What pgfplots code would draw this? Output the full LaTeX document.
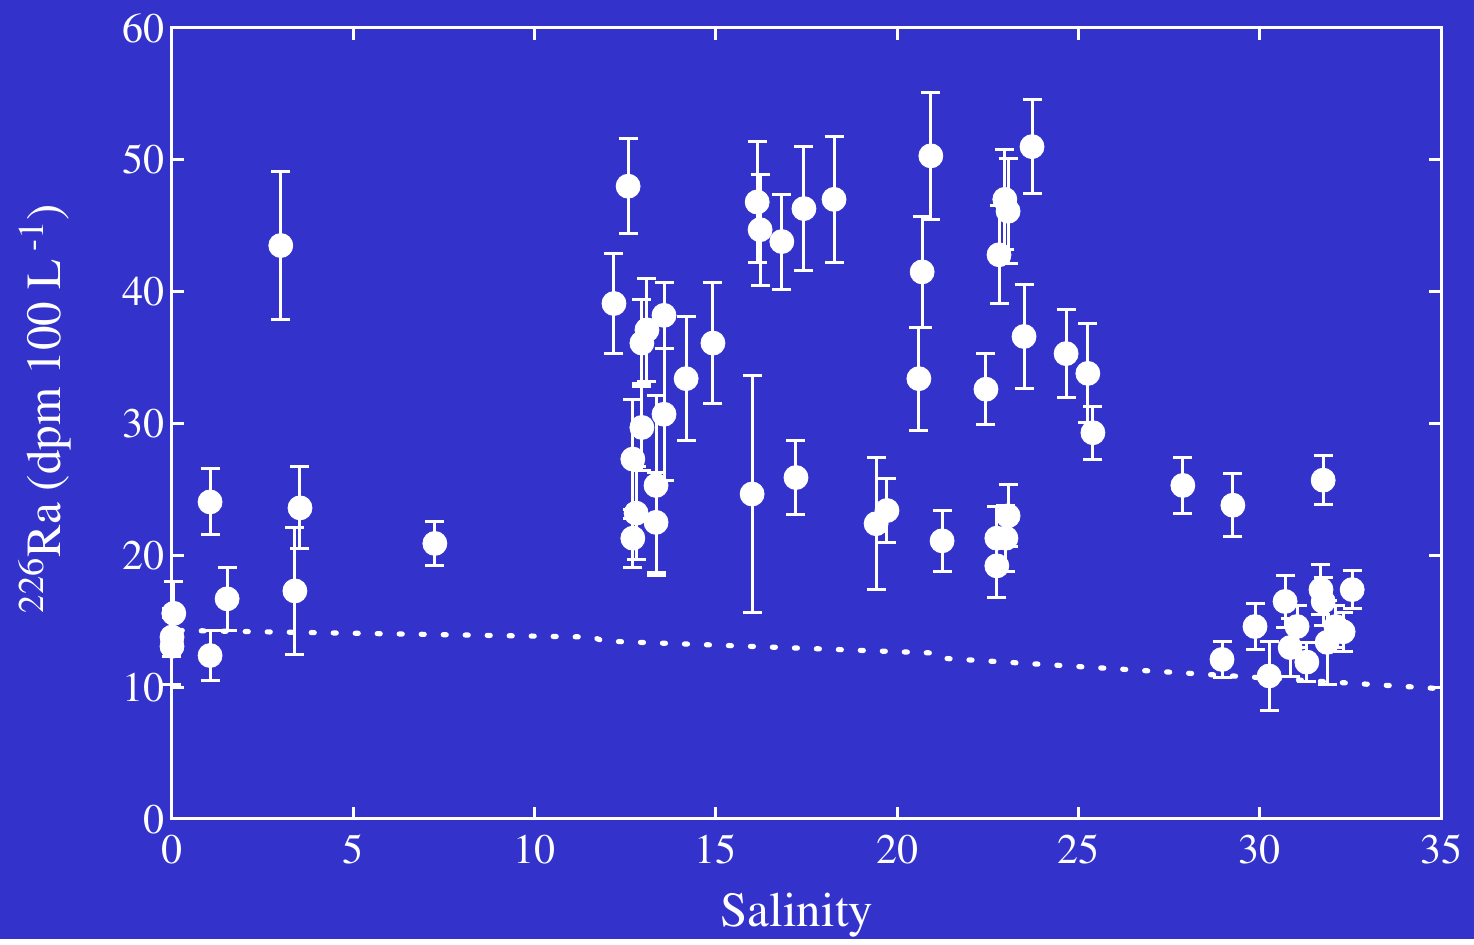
\documentclass[border=0pt]{standalone}
\usepackage[T1]{fontenc}
\usepackage{mathptmx}
\usepackage{pgfplots}
\pgfplotsset{compat=1.18}
\usepackage{pgfplotstable}
\definecolor{bg}{RGB}{51,51,204}
\pgfplotstableread{
x y e
0.05 15.6 2.4
0.0 13.8 1.5
0.0 13.1 2.9
1.05 24.05 2.5
1.05 12.4 1.9
1.52 16.7 2.4
3.0 43.5 5.6
3.39 17.3 4.8
3.53 23.6 3.1
7.25 20.9 1.7
12.19 39.1 3.8
12.58 48.0 3.6
13.57 38.2 2.5
13.1 37.1 3.9
12.96 36.1 3.3
14.18 33.4 4.7
14.92 36.1 4.6
13.57 30.7 5.0
12.96 29.7 3.3
12.71 27.3 4.5
13.35 25.3 6.8
12.8 23.2 3.5
13.35 22.5 3.8
12.71 21.3 2.2
16.14 46.8 4.6
16.22 44.7 4.2
16.82 43.8 3.6
17.43 46.3 4.7
18.26 47.0 4.8
20.93 50.3 4.8
20.69 41.5 4.2
20.6 33.4 3.9
16.0 24.65 9.0
17.21 25.9 2.8
19.42 22.4 5.0
19.72 23.4 2.45
21.24 21.1 2.3
23.72 51.0 3.55
22.97 47.0 3.8
23.06 46.1 4.0
22.81 42.8 3.7
23.5 36.6 3.95
24.66 35.3 3.35
25.26 33.8 3.75
25.4 29.3 2.0
22.45 32.6 2.7
23.06 23.0 2.35
22.75 21.3 2.4
23.0 21.3 2.5
22.75 19.2 2.4
27.88 25.3 2.15
29.26 23.8 2.4
31.75 25.7 1.85
28.96 12.1 1.35
29.87 14.6 1.75
30.26 10.85 2.65
30.7 16.5 2.0
31.03 14.6 1.6
30.84 13.0 2.2
31.3 11.9 1.5
31.69 17.4 1.9
31.75 16.5 1.8
31.86 13.4 3.2
32.1 14.6 1.6
32.3 14.2 1.5
32.55 17.4 1.45
}\radata
\begin{document}
\begin{tikzpicture}
\fill[bg] (0,0) rectangle (737pt,469.5pt);
\begin{axis}[
  at={(86pt,60pt)}, anchor=south west,
  scale only axis, width=634.5pt, height=395.5pt,
  xmin=0, xmax=35, ymin=0, ymax=60,
  xtick={0,5,...,35}, ytick={0,10,...,60},
  clip=false,
  axis line style={white, line width=1.5pt},
  tick style={white, line width=1.5pt},
  major tick length=6pt, tick align=inside,
  /pgf/number format/assume math mode=true,
  ticklabel style={font=\rmfamily\fontsize{21}{24}\selectfont, text=white},
  xticklabel style={yshift=-4.5pt},
  xlabel={Salinity}, ylabel={\textsuperscript{226}Ra (dpm 100 L\,\textsuperscript{-1})},
  label style={font=\rmfamily\fontsize{24.5}{28}\selectfont, text=white},
  xlabel style={at={(axis description cs:0.4925,-0.1365)}, anchor=base},
  ylabel style={at={(axis description cs:-0.100,0.519)}, anchor=center},
]
\addplot[white, line width=2.6pt, line cap=round, dash pattern=on 1.5pt off 9.5pt]
  coordinates {(0.2,14.3) (11.6,13.8) (11.9,13.5) (20.9,12.6) (21.2,12.2) (34.9,9.9)};
\addplot[only marks, mark=*, mark size=6pt, mark options={fill=white, draw=white},
  error bars/.cd, y dir=both, y explicit,
  error bar style={white, line width=1.5pt},
  error mark options={rotate=90, mark size=4.75pt, line width=1.5pt, white}]
  table[x=x, y=y, y error=e] {\radata};
\end{axis}
\end{tikzpicture}
\end{document}
